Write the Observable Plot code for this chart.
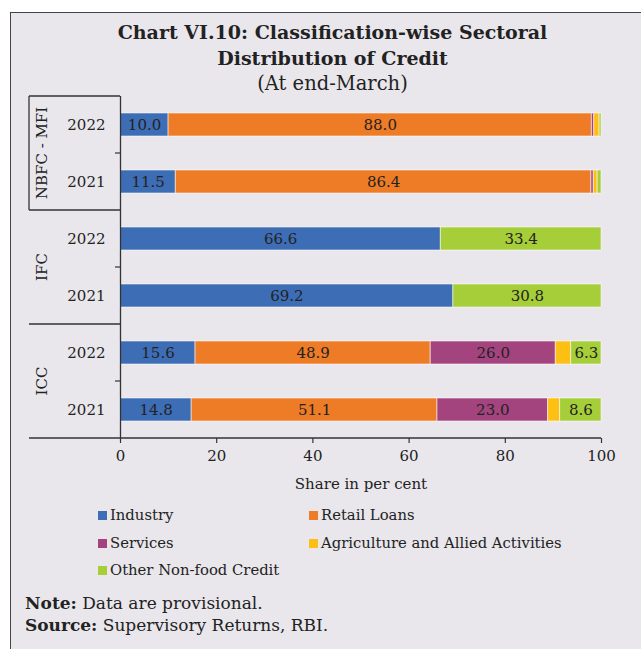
<!DOCTYPE html>
<html>
<head>
<meta charset="utf-8">
<script src="https://cdn.jsdelivr.net/npm/d3@7"></script>
<script src="https://cdn.jsdelivr.net/npm/@observablehq/plot@0.6"></script>
<style>
  html, body { margin: 0; padding: 0; background: #ffffff; width: 641px; height: 649px; overflow: hidden; }
  body { position: relative; font-family: "DejaVu Serif", serif; color: #222; }
  #panel { position: absolute; left: 10px; top: 12px; width: 660px; height: 660px; background: #e9e7ec; border: 1.5px solid #444; box-sizing: border-box; }
  #title { position: absolute; left: 10px; top: 19px; width: 645px; text-align: center; font-weight: bold; font-size: 19px; line-height: 26px; }
  #subtitle { position: absolute; left: 10px; top: 71px; width: 645px; text-align: center; font-size: 19.5px; line-height: 26px; }
  #chart { position: absolute; left: 0; top: 90px; }
  .leg { position: absolute; font-size: 14.8px; line-height: 18px; white-space: nowrap; }
  .sw { position: absolute; width: 9px; height: 9px; top: 5px; left: -12px; }
  .note { position: absolute; left: 25px; font-size: 17px; line-height: 20px; white-space: nowrap; }
</style>
</head>
<body>
<div id="panel"></div>
<div id="title">Chart VI.10: Classification-wise Sectoral<br>Distribution of Credit</div>
<div id="subtitle">(At end-March)</div>
<div id="chart"></div>
<div id="legend"></div>
<div class="note" style="top:593px"><b>Note:</b> Data are provisional.</div>
<div class="note" style="top:615px"><b>Source:</b> Supervisory Returns, RBI.</div>
<script>
// ---- data ----
const groups = ["NBFC - MFI", "IFC", "ICC"];
const years = ["2022", "2021"];
const categories = ["Industry", "Retail Loans", "Services", "Agriculture and Allied Activities", "Other Non-food Credit"];
const colors = ["#3d6db5", "#ee7b26", "#a4447f", "#fdbf14", "#a6ce39"];
// rows: NBFC-MFI 2022, NBFC-MFI 2021, IFC 2022, IFC 2021, ICC 2022, ICC 2021
const industry = [10.0, 11.5, 66.6, 69.2, 15.6, 14.8];
const retailLoans = [88.0, 86.4, 0, 0, 48.9, 51.1];
const services = [0.5, 0.5, 0, 0, 26.0, 23.0];
const agriculture = [1.1, 0.8, 0, 0, 3.2, 2.5];
const otherNonFood = [0.4, 0.8, 33.4, 30.8, 6.3, 8.6];
const xTicks = [0, 20, 40, 60, 80, 100];
const xLabel = "Share in per cent";

const series = [industry, retailLoans, services, agriculture, otherNonFood];
const rows = [];
groups.forEach(g => years.forEach(y => rows.push(g + "|" + y)));
const data = [];
categories.forEach((cat, ci) => {
  rows.forEach((r, ri) => {
    data.push({row: r, cat, value: series[ci][ri]});
  });
});

const ML = 120;
const groupMarks = (index, scales, values, dims) => {
  const y = scales.y;
  const bw = y.bandwidth ? y.bandwidth() : 0;
  const c = r => y(r) + bw / 2;
  const step = c(rows[1]) - c(rows[0]);
  const left = dims.marginLeft - 91;
  const axisX = scales.x(0);
  const right = scales.x(100);
  const g = d3.create("svg:g").attr("stroke", "#333").attr("fill", "none");
  groups.forEach((grp, gi) => {
    const r0 = rows[gi * 2], r1 = rows[gi * 2 + 1];
    const top = c(r0) - step / 2;
    const mid = (c(r0) + c(r1)) / 2;
    const bottom = c(r1) + step / 2;
    g.append("line").attr("x1", left).attr("x2", axisX).attr("y1", top).attr("y2", top).attr("stroke-width", 1.3);
    if (gi === groups.length - 1) {
      g.append("line").attr("x1", left).attr("x2", right).attr("y1", bottom).attr("y2", bottom).attr("stroke-width", 1.3);
    }
    if (gi === 0) {
      g.append("line").attr("x1", left).attr("x2", left).attr("y1", top).attr("y2", bottom).attr("stroke-width", 1.3);
    }
    g.append("line").attr("x1", axisX - 5).attr("x2", axisX).attr("y1", mid).attr("y2", mid).attr("stroke-width", 1.2);
    g.append("text")
      .attr("transform", `translate(${dims.marginLeft - 78},${mid}) rotate(-90)`)
      .attr("text-anchor", "middle").attr("dy", "0.35em")
      .attr("fill", "#222").attr("stroke", "none")
      .text(grp);
  });
  return g.node();
};

const chart = Plot.plot({
  width: 641,
  height: 410,
  marginLeft: ML,
  marginRight: 40,
  marginTop: 6,
  marginBottom: 62,
  style: {fontFamily: "DejaVu Serif", fontSize: "15px", background: "transparent", color: "#222", overflow: "visible"},
  x: {domain: [0, 100]},
  y: {domain: rows, paddingInner: 0.6, paddingOuter: 0.3},
  color: {domain: categories, range: colors},
  marks: [
    Plot.barX(data, Plot.stackX({x: "value", y: "row", fill: "cat", stroke: "#ffffff", strokeOpacity: 0.55, strokeWidth: 1})),
    Plot.text(data, Plot.stackX({x: "value", y: "row", z: "cat",
      text: d => d.value >= 5 ? d.value.toFixed(1) : null, fill: "#222"})),
    Plot.axisY({tickSize: 0, tickPadding: 15, tickFormat: d => d.split("|")[1], label: null}),
    Plot.axisX({ticks: xTicks, tickSize: 5, tickPadding: 7, label: null, stroke: "#333", strokeWidth: 1.2}),
    Plot.ruleX([0], {stroke: "#333", strokeWidth: 1.3}),
    Plot.text([xLabel], {frameAnchor: "bottom", dy: 46, lineAnchor: "middle", text: d => d, fill: "#222"}),
    groupMarks
  ]
});
document.getElementById("chart").appendChild(chart);

// legend
const legendPos = [[110, 506], [321, 506], [110, 534], [321, 534], [110, 561]];
const legend = document.getElementById("legend");
categories.forEach((cat, i) => {
  const d = document.createElement("div");
  d.className = "leg";
  d.style.left = legendPos[i][0] + "px";
  d.style.top = legendPos[i][1] + "px";
  const sw = document.createElement("span");
  sw.className = "sw";
  sw.style.background = colors[i];
  d.appendChild(sw);
  d.appendChild(document.createTextNode(cat));
  legend.appendChild(d);
});
</script>
</body>
</html>
